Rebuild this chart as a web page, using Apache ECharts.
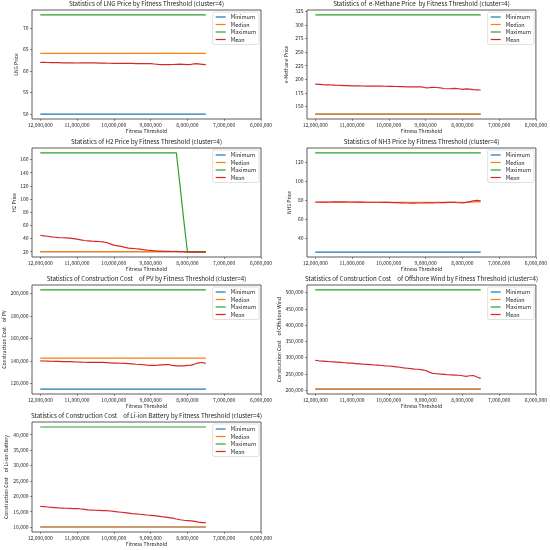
<!DOCTYPE html>
<html><head><meta charset="utf-8">
<script src="https://cdn.jsdelivr.net/npm/echarts@6/dist/echarts.min.js"></script>
<style>html,body{margin:0;padding:0;background:#fff}#c{width:550px;height:550px}</style>
</head><body><div id="c"></div>
<script>
// ---------- DATA ----------
const thresholds = [12000000,11900000,11800000,11700000,11600000,11500000,11400000,11300000,11200000,11100000,
  11000000,10900000,10800000,10700000,10600000,10500000,10400000,10300000,10200000,10100000,
  10000000,9900000,9800000,9700000,9600000,9500000,9400000,9300000,9200000,9100000,
  9000000,8900000,8800000,8700000,8600000,8500000,8400000,8300000,8200000,8100000,
  8000000,7900000,7800000,7700000,7600000,7500000];
const xTicks = [12000000,11000000,10000000,9000000,8000000,7000000,6000000];
const seriesNames = ['Minimum','Median','Maximum','Mean'];

// LNG
const lngMin = 50, lngMedian = 64.1, lngMax = 73.0;
const lngMean = [62.0,61.98,61.96,61.95,61.93,61.92,61.9,61.88,61.87,61.86,
  61.85,61.86,61.87,61.88,61.88,61.86,61.84,61.82,61.8,61.79,
  61.78,61.78,61.79,61.78,61.76,61.74,61.72,61.7,61.71,61.73,
  61.72,61.62,61.52,61.48,61.47,61.47,61.5,61.55,61.6,61.55,
  61.45,61.55,61.68,61.65,61.55,61.45];
const lngTicks = [50,55,60,65,70];

// e-Methane
const meMin = 136, meMedian = 136, meMax = 318.3;
const meMean = [191,190.5,190,189.8,189.5,189.3,189,188.7,188.4,188.2,
  188,187.8,187.7,187.6,187.5,187.4,187.3,187.3,187.2,187.1,
  187,186.9,186.7,186.5,186.3,186.1,186,185.9,185.9,186,
  184.3,184.6,185,184.8,184,183,182.5,182.8,183.2,182.5,
  181.5,182.2,181.8,181,180.6,180.2];
const meTicks = [150,175,200,225,250,275,300,325];

// H2
const h2Min = 20, h2Median = 20;
const h2Max = [170,170,170,170,170,170,170,170,170,170,
  170,170,170,170,170,170,170,170,170,170,
  170,170,170,170,170,170,170,170,170,170,
  170,170,170,170,170,170,170,170,120,68,
  20,20,20,20,20,20];
const h2Mean = [45,44,43.5,42.5,42,41.5,41.2,41,40.5,40,
  39,38,37,36.5,36,35.8,35.5,35,34,32,
  30,29,28,26.5,25.5,25,24.5,24,23.2,22.5,
  22,21.5,21,20.8,20.5,20.5,20.3,20.5,20.2,20,
  19.5,19.5,19.5,19.5,19.5,19.5];
const h2Ticks = [20,40,60,80,100,120,140,160];

// NH3
const nh3Min = 25.5, nh3Max = 130;
const nh3Median = [78,78,78,78,78,78,78,78,78,78,
  78,78,78,78,78,78,78,78,78,78,
  78,78,78,78,78,78,78,78,78,78,
  78,78,78,78,78,78,78,78,78,78,
  78,78,78,78.2,78.6,78.4];
const nh3Mean = [78.3,78.3,78.2,78.2,78.3,78.4,78.5,78.5,78.4,78.3,
  78.3,78.2,78.1,78.1,78.0,78.0,78.0,78.0,77.9,77.9,
  77.8,77.7,77.6,77.4,77.3,77.2,77.1,77.1,77.2,77.2,
  77.3,77.3,77.4,77.5,77.6,77.7,77.8,77.9,77.8,77.5,
  77.3,77.8,78.6,79.5,80.0,79.6];
const nh3Ticks = [40,60,80,100,120];

// PV construction cost
const pvMin = 115000, pvMedian = 142500, pvMax = 203000;
const pvMean = [140000,139900,139800,139700,139600,139500,139400,139300,139300,139200,
  139000,138900,138800,138700,138600,138600,138700,138600,138400,138200,
  138000,138000,137900,137800,137600,137300,137000,136800,136600,136300,
  136100,136000,136200,136500,136700,136600,136000,135600,135500,135600,
  136000,136300,137200,138200,138600,137800];
const pvTicks = [120000,140000,160000,180000,200000];

// Offshore wind construction cost
const owMin = 203000, owMedian = 203000, owMax = 508000;
const owMean = [291500,290000,289000,288000,287000,286500,286000,285000,284000,283000,
  282500,281500,280500,279500,279000,278000,277000,276500,275500,274500,
  274000,273000,271500,270000,268000,267000,266000,264500,264000,262000,
  260000,255000,251000,250000,249000,248000,247000,246500,246000,245500,
  244000,242000,244000,244500,240000,236000];
const owTicks = [200000,250000,300000,350000,400000,450000,500000];

// Li-ion battery construction cost
const liMin = 10000, liMedian = 10000, liMax = 42500;
const liMean = [16700,16600,16500,16400,16300,16200,16150,16100,16050,16000,
  15950,15850,15700,15550,15500,15450,15400,15350,15300,15200,
  15050,14900,14800,14650,14500,14350,14250,14150,14050,13900,
  13800,13700,13550,13350,13200,13050,12900,12600,12350,12200,
  12100,12000,11800,11600,11450,11400];
const liTicks = [10000,15000,20000,25000,30000,35000,40000];

const titles = [
  'Statistics of LNG Price by Fitness Threshold (cluster=4)',
  'Statistics of  e-Methane Price  by Fitness Threshold (cluster=4)',
  'Statistics of H2 Price by Fitness Threshold (cluster=4)',
  'Statistics of NH3 Price by Fitness Threshold (cluster=4)',
  'Statistics of Construction Cost\u3000of PV by Fitness Threshold (cluster=4)',
  'Statistics of Construction Cost\u3000of Offshore Wind by Fitness Threshold (cluster=4)',
  'Statistics of Construction Cost\u3000of Li-ion Battery by Fitness Threshold (cluster=4)'
];
const yNames = ['LNG Price','e-Methane Price','H2 Price','NH3 Price',
  'Construction Cost\u3000of PV','Construction Cost\u3000of Offshore Wind','Construction Cost\u3000of Li-ion Battery'];
const xName = 'Fitness Threshold';

// ---------- BUILD ----------
const constant = v => thresholds.map(() => v);
const panelsData = [
  {min: constant(lngMin), median: constant(lngMedian), max: constant(lngMax), mean: lngMean, ticks: lngTicks},
  {min: constant(meMin), median: constant(meMedian), max: constant(meMax), mean: meMean, ticks: meTicks},
  {min: constant(h2Min), median: constant(h2Median), max: h2Max, mean: h2Mean, ticks: h2Ticks},
  {min: constant(nh3Min), median: nh3Median, max: constant(nh3Max), mean: nh3Mean, ticks: nh3Ticks},
  {min: constant(pvMin), median: constant(pvMedian), max: constant(pvMax), mean: pvMean, ticks: pvTicks},
  {min: constant(owMin), median: constant(owMedian), max: constant(owMax), mean: owMean, ticks: owTicks},
  {min: constant(liMin), median: constant(liMedian), max: constant(liMax), mean: liMean, ticks: liTicks}
];
// layout (pixels)
const layout = [
  {left: 32, top: 10, width: 229, height: 109, gap: 10.5},
  {left: 307, top: 10, width: 229, height: 109, gap: 18},
  {left: 32, top: 148, width: 229, height: 109, gap: 14.5},
  {left: 307, top: 148, width: 229, height: 109, gap: 14.5},
  {left: 32, top: 285, width: 229, height: 109, gap: 25.5},
  {left: 307, top: 285, width: 229, height: 109, gap: 25.5},
  {left: 32, top: 422, width: 229, height: 110, gap: 23.5}
];
const colors = {Minimum: '#1f77b4', Median: '#ff7f0e', Maximum: '#2ca02c', Mean: '#d62728'};
const FONT = '"Noto Sans CJK JP", "Noto Sans", sans-serif';
const TXT = '#222';
const fmt = v => Number(v).toLocaleString('en-US');

const grid = [], xAxis = [], yAxis = [], series = [], legend = [], title = [];
panelsData.forEach((p, i) => {
  const L = layout[i];
  grid.push({left: L.left, top: L.top, width: L.width, height: L.height, show: true,
    borderColor: '#333', borderWidth: 0.8, backgroundColor: 'transparent', containLabel: false});
  const xMaxData = Math.max(...thresholds), xMinData = Math.min(...thresholds);
  xAxis.push({type: 'value', gridIndex: i, inverse: true,
    min: 6000000, max: xMaxData + (xMaxData - xMinData) * 0.05,
    name: xName, nameLocation: 'middle', nameGap: 10,
    nameTextStyle: {fontSize: 5, color: TXT, fontFamily: FONT},
    axisLine: {show: false}, splitLine: {show: false},
    axisTick: {show: true, length: 1.8, lineStyle: {color: '#333', width: 0.6}, customValues: xTicks},
    axisLabel: {fontSize: 5, color: TXT, fontFamily: FONT, margin: 3.5, customValues: xTicks, formatter: fmt}
  });
  const all = [].concat(p.min, p.median, p.max, p.mean);
  const lo = Math.min(...all), hi = Math.max(...all), pad = (hi - lo) * 0.05;
  yAxis.push({type: 'value', gridIndex: i, min: lo - pad, max: hi + pad,
    name: yNames[i], nameLocation: 'middle', nameGap: L.gap, nameRotate: 90,
    nameTextStyle: {fontSize: 5, color: TXT, fontFamily: FONT},
    axisLine: {show: false}, splitLine: {show: false},
    axisTick: {show: true, length: 1.8, lineStyle: {color: '#333', width: 0.6}, customValues: p.ticks},
    axisLabel: {fontSize: 5, color: TXT, fontFamily: FONT, margin: 3.5, customValues: p.ticks, formatter: fmt}
  });
  const vals = {Minimum: p.min, Median: p.median, Maximum: p.max, Mean: p.mean};
  seriesNames.forEach(n => {
    series.push({type: 'line', name: n, xAxisIndex: i, yAxisIndex: i, symbol: 'none',
      data: thresholds.map((t, k) => [t, vals[n][k]]),
      lineStyle: {color: colors[n], width: 1.2}, itemStyle: {color: colors[n]},
      animation: false, silent: true});
  });
  legend.push({data: seriesNames, orient: 'vertical', right: 550 - (L.left + L.width) + 2, top: L.top + 2,
    icon: 'rect', itemWidth: 10, itemHeight: 1.2, itemGap: 1.5, padding: [2, 3, 2, 3],
    backgroundColor: '#fff', borderColor: '#ccc', borderWidth: 0.6, borderRadius: 1.5,
    textStyle: {fontSize: 5.5, color: TXT, fontFamily: FONT, lineHeight: 6}, selectedMode: false});
  title.push({text: titles[i], left: L.left + L.width / 2, textAlign: 'center', top: L.top - 9.5,
    padding: 0, textStyle: {fontSize: 6.2, fontWeight: 'normal', color: TXT, fontFamily: FONT}});
});

const chart = echarts.init(document.getElementById('c'), null, {renderer: 'canvas'});
chart.setOption({animation: false, backgroundColor: '#fff', title, legend, grid, xAxis, yAxis, series});
</script>
</body></html>
